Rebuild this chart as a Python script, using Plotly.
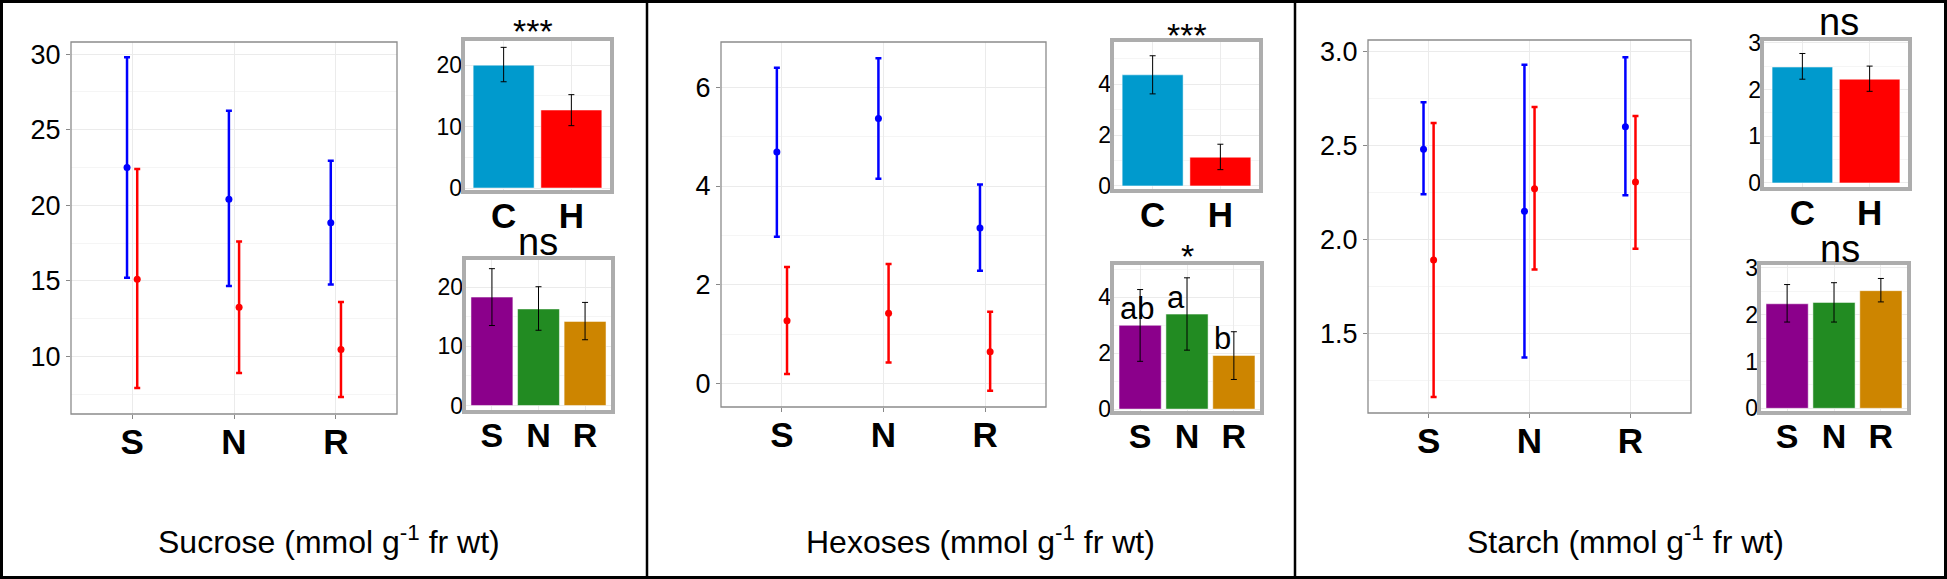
import plotly.graph_objects as go

# ---------------- data ----------------
groups = ["S", "N", "R"]
treatments = ["C", "H"]
titles = ["Sucrose", "Hexoses", "Starch"]

# main panels: control (blue) and heat (red) means with lower / upper bounds
sucrose_C_mean = [22.5, 20.4, 18.85]
sucrose_C_lo = [15.2, 14.65, 14.75]
sucrose_C_hi = [29.8, 26.25, 22.95]
sucrose_H_mean = [15.1, 13.25, 10.45]
sucrose_H_lo = [7.9, 8.9, 7.3]
sucrose_H_hi = [22.4, 17.6, 13.6]

hexoses_C_mean = [4.69, 5.37, 3.15]
hexoses_C_lo = [2.97, 4.15, 2.28]
hexoses_C_hi = [6.40, 6.59, 4.03]
hexoses_H_mean = [1.27, 1.42, 0.64]
hexoses_H_lo = [0.19, 0.42, -0.15]
hexoses_H_hi = [2.36, 2.42, 1.45]

starch_C_mean = [2.48, 2.15, 2.60]
starch_C_lo = [2.24, 1.37, 2.235]
starch_C_hi = [2.73, 2.93, 2.97]
starch_H_mean = [1.89, 2.27, 2.305]
starch_H_lo = [1.16, 1.84, 1.95]
starch_H_hi = [2.62, 2.705, 2.657]

# inset: treatment means (C, H)
sucrose_trt_mean = [20.0, 12.7]
sucrose_trt_lo = [17.3, 10.15]
sucrose_trt_hi = [22.9, 15.2]
hexoses_trt_mean = [4.37, 1.13]
hexoses_trt_lo = [3.62, 0.64]
hexoses_trt_hi = [5.12, 1.64]
starch_trt_mean = [2.48, 2.22]
starch_trt_lo = [2.22, 1.96]
starch_trt_hi = [2.77, 2.50]

# inset: group means (S, N, R)
sucrose_grp_mean = [18.3, 16.3, 14.2]
sucrose_grp_lo = [13.5, 12.7, 11.1]
sucrose_grp_hi = [23.1, 20.05, 17.4]
hexoses_grp_mean = [3.0, 3.4, 1.92]
hexoses_grp_lo = [1.71, 2.11, 1.06]
hexoses_grp_hi = [4.28, 4.7, 2.77]
starch_grp_mean = [2.23, 2.26, 2.51]
starch_grp_lo = [1.84, 1.84, 2.27]
starch_grp_hi = [2.64, 2.68, 2.77]

trt_signif = ["***", "***", "ns"]
grp_signif = ["ns", "*", "ns"]
hex_letters = ["ab", "a", "b"]

# ---------------- layout geometry (pixels) ----------------
W, H = 1947, 579
main_box = [(71, 397, 42, 414), (721, 1046, 42, 407), (1368, 1691, 40, 413)]
top_box = [(463, 612, 39, 192), (1112, 1261, 40, 191), (1762, 1910, 39, 189)]
bot_box = [(464, 613, 258, 412), (1112, 1262, 263, 413), (1759, 1909, 263, 413)]
main_range = [(6.18, 30.81), (-0.48, 6.92), (1.075, 3.062)]
main_dtick = [5, 2, 0.5]
top_range = [(-0.65, 24.26), (-0.2, 5.74), (-0.13, 3.08)]
top_dtick = [10, 2, 1]
bot_range = [(-1.1, 24.9), (-0.14, 5.23), (-0.1, 3.1)]
bot_dtick = [10, 2, 1]
title_x = [329, 980, 1625]
title_y = 540
# centre of the significance glyphs (pixels)
trt_sig_xy = [(533, 25), (1187, 29), (1839, 25)]
grp_sig_xy = [(538, 245), (1187, 250), (1840, 252)]

BLUE, RED = "#0000FF", "#FF0000"
TRT_COLORS = ["#009ACD", "#FF0000"]
GRP_COLORS = ["#8B008B", "#228B22", "#CD8500"]
GRID = "#EBEBEB"
MINOR = "#F5F5F5"
FONT = "Liberation Sans"


def sfx(n):
    return "" if n == 1 else str(n)


def dom_x(a, b):
    return [a / W, b / W]


def dom_y(top, bot):
    return [1 - bot / H, 1 - top / H]


main_data = [
    (sucrose_C_mean, sucrose_C_lo, sucrose_C_hi, sucrose_H_mean, sucrose_H_lo, sucrose_H_hi),
    (hexoses_C_mean, hexoses_C_lo, hexoses_C_hi, hexoses_H_mean, hexoses_H_lo, hexoses_H_hi),
    (starch_C_mean, starch_C_lo, starch_C_hi, starch_H_mean, starch_H_lo, starch_H_hi),
]
trt_data = [
    (sucrose_trt_mean, sucrose_trt_lo, sucrose_trt_hi),
    (hexoses_trt_mean, hexoses_trt_lo, hexoses_trt_hi),
    (starch_trt_mean, starch_trt_lo, starch_trt_hi),
]
grp_data = [
    (sucrose_grp_mean, sucrose_grp_lo, sucrose_grp_hi),
    (hexoses_grp_mean, hexoses_grp_lo, hexoses_grp_hi),
    (starch_grp_mean, starch_grp_lo, starch_grp_hi),
]

fig = go.Figure()
layout = dict(
    width=W, height=H, margin=dict(l=0, r=0, t=0, b=0, autoexpand=False),
    paper_bgcolor="white", plot_bgcolor="white", showlegend=False,
    font=dict(family=FONT, color="black"),
    shapes=[], annotations=[],
)

DODGE = 0.05
for p in range(3):
    ia, ib, ic = sfx(3 * p + 1), sfx(3 * p + 2), sfx(3 * p + 3)
    cm, cl, ch, hm, hl, hh = main_data[p]
    xpos = [i + 1 for i in range(len(groups))]
    # main panel
    for mean, lo, hi, col, off in [(cm, cl, ch, BLUE, -DODGE), (hm, hl, hh, RED, DODGE)]:
        fig.add_trace(go.Scatter(
            x=[x + off for x in xpos], y=mean, mode="markers",
            marker=dict(color=col, size=7),
            error_y=dict(type="data", symmetric=False,
                         array=[h - m for h, m in zip(hi, mean)],
                         arrayminus=[m - l for m, l in zip(mean, lo)],
                         color=col, thickness=2.5, width=3),
            xaxis=f"x{ia}", yaxis=f"y{ia}"))
    # top inset (treatment)
    tm, tl, th = trt_data[p]
    fig.add_trace(go.Bar(
        x=[i + 1 for i in range(len(treatments))], y=tm, width=0.9,
        marker=dict(color=TRT_COLORS, line=dict(color="rgba(255,255,255,0.5)", width=1)),
        error_y=dict(type="data", symmetric=False,
                     array=[h - m for h, m in zip(th, tm)],
                     arrayminus=[m - l for m, l in zip(tm, tl)],
                     color="black", thickness=1, width=3),
        xaxis=f"x{ib}", yaxis=f"y{ib}"))
    # bottom inset (groups)
    gm, gl, gh = grp_data[p]
    fig.add_trace(go.Bar(
        x=xpos, y=gm, width=0.9,
        marker=dict(color=GRP_COLORS, line=dict(color="rgba(255,255,255,0.5)", width=1)),
        error_y=dict(type="data", symmetric=False,
                     array=[h - m for h, m in zip(gh, gm)],
                     arrayminus=[m - l for m, l in zip(gm, gl)],
                     color="black", thickness=1, width=3),
        xaxis=f"x{ic}", yaxis=f"y{ic}"))

    # axes: main
    mb = main_box[p]
    layout[f"xaxis{ia}"] = dict(
        domain=dom_x(mb[0], mb[1]), anchor=f"y{ia}", range=[0.4, 3.6], automargin=False,
        tickvals=xpos, ticktext=groups, tickfont=dict(size=35, weight="bold"),
        ticklabelstandoff=-7,
        showgrid=True, gridcolor=GRID, zeroline=False, showline=False,
        ticks="outside", ticklen=4, tickcolor="#888888")
    ydict = dict(
        domain=dom_y(mb[2], mb[3]), anchor=f"x{ia}", range=list(main_range[p]),
        dtick=main_dtick[p], tickfont=dict(size=27), automargin=False,
        showgrid=True, gridcolor=GRID, zeroline=False, showline=False,
        ticks="outside", ticklen=4, tickcolor="#888888",
        minor=dict(dtick=main_dtick[p] / 2, showgrid=True, gridcolor=MINOR))
    if p == 2:
        ydict["tickformat"] = ".1f"
    layout[f"yaxis{ia}"] = ydict
    layout["shapes"].append(dict(type="rect", xref=f"x{ia} domain", yref=f"y{ia} domain",
                                 x0=0, x1=1, y0=0, y1=1, line=dict(color="#8C8C8C", width=1.3)))
    # axes: top inset
    tb = top_box[p]
    layout[f"xaxis{ib}"] = dict(
        domain=dom_x(tb[0], tb[1]), anchor=f"y{ib}", range=[0.4, 2.6], automargin=False,
        tickvals=[1, 2], ticktext=treatments, tickfont=dict(size=35, weight="bold"),
        showgrid=True, gridcolor=GRID, zeroline=False, showline=False, ticks="")
    layout[f"yaxis{ib}"] = dict(
        domain=dom_y(tb[2], tb[3]), anchor=f"x{ib}", range=list(top_range[p]),
        dtick=top_dtick[p], tickfont=dict(size=23), automargin=False,
        showgrid=True, gridcolor=GRID, zeroline=False, showline=False, ticks="",
        minor=dict(dtick=top_dtick[p] / 2, showgrid=True, gridcolor=MINOR))
    layout["shapes"].append(dict(type="rect", xref=f"x{ib} domain", yref=f"y{ib} domain",
                                 x0=0, x1=1, y0=0, y1=1, line=dict(color="#ADADAD", width=4)))
    # axes: bottom inset
    bb = bot_box[p]
    layout[f"xaxis{ic}"] = dict(
        domain=dom_x(bb[0], bb[1]), anchor=f"y{ic}", range=[0.4, 3.6], automargin=False,
        tickvals=xpos, ticktext=groups, tickfont=dict(size=34, weight="bold"),
        showgrid=True, gridcolor=GRID, zeroline=False, showline=False, ticks="")
    layout[f"yaxis{ic}"] = dict(
        domain=dom_y(bb[2], bb[3]), anchor=f"x{ic}", range=list(bot_range[p]),
        dtick=bot_dtick[p], tickfont=dict(size=23), automargin=False,
        showgrid=True, gridcolor=GRID, zeroline=False, showline=False, ticks="",
        minor=dict(dtick=bot_dtick[p] / 2, showgrid=True, gridcolor=MINOR))
    layout["shapes"].append(dict(type="rect", xref=f"x{ic} domain", yref=f"y{ic} domain",
                                 x0=0, x1=1, y0=0, y1=1, line=dict(color="#ADADAD", width=4)))

    # significance labels above insets (star glyphs sit high in the line box)
    for txt, (sx, sy) in [(trt_signif[p], trt_sig_xy[p]), (grp_signif[p], grp_sig_xy[p])]:
        is_star = "*" in txt
        layout["annotations"].append(dict(
            text=txt, xref="paper", yref="paper", showarrow=False,
            x=sx / W, y=1 - sy / H, xanchor="center", yanchor="middle",
            yshift=-6 if is_star else 3,
            font=dict(size=34 if is_star else 38)))

    # panel title
    layout["annotations"].append(dict(
        text=f"{titles[p]} (mmol g<sup>-1</sup> fr wt)", xref="paper", yref="paper",
        x=title_x[p] / W, y=1 - title_y / H, showarrow=False,
        xanchor="center", yanchor="middle", font=dict(size=32)))

# compact-letter display on hexoses group inset
letter_shift = [-3, -11, -11]
for i, (lab, m) in enumerate(zip(hex_letters, hexoses_grp_mean)):
    layout["annotations"].append(dict(
        text=lab, xref="x6", yref="y6", x=i + 1, y=m, showarrow=False,
        xanchor="center", yanchor="bottom", xshift=letter_shift[i], yshift=-3,
        font=dict(size=31)))

# frame and panel dividers
layout["shapes"].append(dict(type="rect", xref="paper", yref="paper",
                             x0=1.5 / W, x1=1 - 1.5 / W, y0=1.5 / H, y1=1 - 1.5 / H,
                             line=dict(color="black", width=3)))
for xd in [647, 1295]:
    layout["shapes"].append(dict(type="line", xref="paper", yref="paper",
                                 x0=xd / W, x1=xd / W, y0=0, y1=1,
                                 line=dict(color="black", width=2.5)))

fig.update_layout(**layout)
fig.write_html("out.html", config={"displayModeBar": False},
               post_script="document.body.style.margin='0px';document.body.style.overflow='hidden';")
